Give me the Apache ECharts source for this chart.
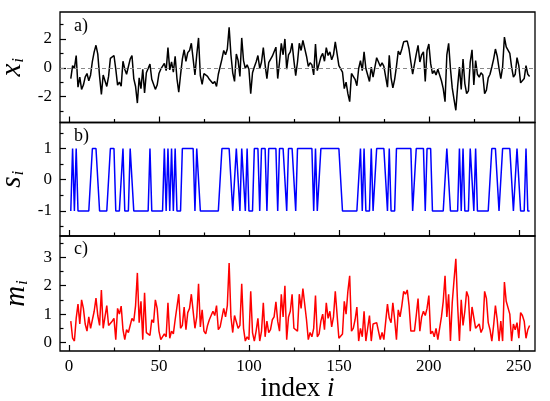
<!DOCTYPE html>
<html>
<head>
<meta charset="utf-8">
<script src="https://cdn.jsdelivr.net/npm/echarts@6/dist/echarts.min.js"></script>
<style>
html, body { margin: 0; padding: 0; background: #fff; }
#chart { width: 550px; height: 401px; }
</style>
</head>
<body>
<div id="chart"></div>
<script>
// panel a) raw values x_i, i = 1..256 (read off the picture)
const xValues = [
  -0.75, 0.15, -0.05, 0.85, -1.35, -0.65, -1.5, -1.2, -0.65, -0.4, -0.9, -0.5, 0.45, 1.1, 1.56, 0.95,
  -0.6, -1.85, -0.5, -0.9, -1.3, -0.6, 0.65, 0.75, 0.85, -0.1, -1.2, -1.0, -1.28, 0.45, -0.1, -0.45,
  -0.35, 0.6, 0.85, -0.75, -1.3, -2.45, -0.7, -1.45, -0.1, -1.75, -0.35, -0.3, 0.25, -0.8, -0.7, -1.5,
  -1.2, -0.4, -0.1, -0.05, 0.3, -0.2, 1.4, -0.15, 0.4, -0.3, 0.8, -0.75, -1.7, -0.5, 0.6, 1.25,
  0.45, 1.05, 1.2, 1.7, 1.75, -0.5, 0.9, 2.07, -0.55, -1.15, -0.4, -0.3, -0.6, -0.8, -0.85, -1.1,
  -0.95, -1.3, -0.45, -0.55, 0.6, 1.2, 0.9, 1.3, 2.8, 0.9, -0.35, -0.95, 0.95, 0.5, -0.6, 2.07,
  0.5, -0.05, 0.2, -0.1, -1.8, -0.35, 0.05, 0.4, 0.85, -0.05, 0.4, 1.4, 0.2, -0.75, 0.35, 0.45,
  0.8, 0.9, 1.43, -0.75, 0.4, 1.7, 0.9, 2.0, -0.1, 0.9, 1.1, 1.7, 0.5, -0.55, 0.4, 1.7,
  1.2, 1.9, 1.85, 0.8, 0.1, 0.35, 0.2, -0.5, 1.65, -0.2, -0.3, 0.75, 1.0, 0.45, 1.4, 0.85,
  1.1, 0.55, 0.9, 1.8, 1.75, 0.15, 0.2, -0.3, -1.45, -1.0, -1.8, -2.35, -0.4, -0.5, -0.8, -1.25,
  -0.05, 0.5, -0.2, 1.1, -0.05, -0.1, -0.95, 0.05, -0.65, -0.65, 0.7, 0.7, 0.1, 0.35, 0.1, 0.1,
  -1.35, 0.86, -0.7, -1.4, -0.8, 0.1, 1.15, 0.9, 1.3, 1.8, 1.7, 1.85, 1.3, 0.4, -0.45, -0.4,
  0.95, 1.55, 0.4, 0.9, 1.1, -0.95, 1.2, 1.65, 0.3, -0.4, -0.2, -0.5, -0.1, -0.05, -0.9, -1.45,
  -2.35, 0.9, 1.7, -0.05, -1.4, -2.2, -2.95, -1.3, 0.05, -1.5, 0.6, -1.1, -1.8, -1.6, 0.4, 1.25,
  -1.2, 0.5, -0.45, -0.65, -0.35, -0.5, -1.8, -1.55, -0.7, -0.45, 0.05, 0.6, 1.3, 0.8, -0.05, -0.75,
  0.05, 2.13, 1.45, 1.4, 1.0, 0.05, -0.65, -0.45, 0.7, 0.15, -1.05, -0.95, -0.75, 0.15, -0.45, -0.6
];

// panel b) signs s_i
const sValues = [
  -1, 1, -1, 1, -1, -1, -1, -1, -1, -1, -1, -1, 1, 1, 1, 1,
  -1, -1, -1, -1, -1, -1, 1, 1, 1, -1, -1, -1, -1, 1, -1, -1,
  -1, 1, 1, -1, -1, -1, -1, -1, -1, -1, -1, -1, 1, -1, -1, -1,
  -1, -1, -1, -1, 1, -1, 1, -1, 1, -1, 1, -1, -1, -1, 1, 1,
  1, 1, 1, 1, 1, -1, 1, 1, -1, -1, -1, -1, -1, -1, -1, -1,
  -1, -1, -1, -1, 1, 1, 1, 1, 1, 1, -1, -1, 1, 1, -1, 1,
  1, -1, 1, -1, -1, -1, 1, 1, 1, -1, 1, 1, 1, -1, 1, 1,
  1, 1, 1, -1, 1, 1, 1, 1, -1, 1, 1, 1, 1, -1, 1, 1,
  1, 1, 1, 1, 1, 1, 1, -1, 1, -1, -1, 1, 1, 1, 1, 1,
  1, 1, 1, 1, 1, 1, 1, -1, -1, -1, -1, -1, -1, -1, -1, -1,
  -1, 1, -1, 1, -1, -1, -1, 1, -1, -1, 1, 1, 1, 1, 1, 1,
  -1, 1, -1, -1, -1, 1, 1, 1, 1, 1, 1, 1, 1, 1, -1, -1,
  1, 1, 1, 1, 1, -1, 1, 1, 1, -1, -1, -1, -1, -1, -1, -1,
  -1, 1, 1, -1, -1, -1, -1, -1, 1, -1, 1, -1, -1, -1, 1, 1,
  -1, 1, -1, -1, -1, -1, -1, -1, -1, -1, 1, 1, 1, 1, -1, -1,
  1, 1, 1, 1, 1, 1, -1, -1, 1, 1, -1, -1, -1, 1, -1, -1
];

// panel c) magnitudes m_i
const mValues = [
  0.75, 0.15, 0.05, 0.85, 1.35, 0.65, 1.5, 1.2, 0.65, 0.4, 0.9, 0.5, 0.45, 1.1, 1.56, 0.95,
  0.6, 1.85, 0.5, 0.9, 1.3, 0.6, 0.65, 0.75, 0.85, 0.1, 1.2, 1.0, 1.28, 0.45, 0.1, 0.45,
  0.35, 0.6, 0.85, 0.75, 1.3, 2.45, 0.7, 1.45, 0.1, 1.75, 0.35, 0.3, 0.25, 0.8, 0.7, 1.5,
  1.2, 0.4, 0.1, 0.05, 0.3, 0.2, 1.4, 0.15, 0.4, 0.3, 0.8, 0.75, 1.7, 0.5, 0.6, 1.25,
  0.45, 1.05, 1.2, 1.7, 1.75, 0.5, 0.9, 2.07, 0.55, 1.15, 0.4, 0.3, 0.6, 0.8, 0.85, 1.1,
  0.95, 1.3, 0.45, 0.55, 0.6, 1.2, 0.9, 1.3, 2.8, 0.9, 0.35, 0.95, 0.95, 0.5, 0.6, 2.07,
  0.5, 0.05, 0.2, 0.1, 1.8, 0.35, 0.05, 0.4, 0.85, 0.05, 0.4, 1.4, 0.2, 0.75, 0.35, 0.45,
  0.8, 0.9, 1.43, 0.75, 0.4, 1.7, 0.9, 2.0, 0.1, 0.9, 1.1, 1.7, 0.5, 0.55, 0.4, 1.7,
  1.2, 1.9, 1.85, 0.8, 0.1, 0.35, 0.2, 0.5, 1.65, 0.2, 0.3, 0.75, 1.0, 0.45, 1.4, 0.85,
  1.1, 0.55, 0.9, 1.8, 1.75, 0.15, 0.2, 0.3, 1.45, 1.0, 1.8, 2.35, 0.4, 0.5, 0.8, 1.25,
  0.05, 0.5, 0.2, 1.1, 0.05, 0.1, 0.95, 0.05, 0.65, 0.65, 0.7, 0.7, 0.1, 0.35, 0.1, 0.1,
  1.35, 0.86, 0.7, 1.4, 0.8, 0.1, 1.15, 0.9, 1.3, 1.8, 1.7, 1.85, 1.3, 0.4, 0.45, 0.4,
  0.95, 1.55, 0.4, 0.9, 1.1, 0.95, 1.2, 1.65, 0.3, 0.4, 0.2, 0.5, 0.1, 0.05, 0.9, 1.45,
  2.35, 0.9, 1.7, 0.05, 1.4, 2.2, 2.95, 1.3, 0.05, 1.5, 0.6, 1.1, 1.8, 1.6, 0.4, 1.25,
  1.2, 0.5, 0.45, 0.65, 0.35, 0.5, 1.8, 1.55, 0.7, 0.45, 0.05, 0.6, 1.3, 0.8, 0.05, 0.75,
  0.05, 2.13, 1.45, 1.4, 1.0, 0.05, 0.65, 0.45, 0.7, 0.15, 1.05, 0.95, 0.75, 0.15, 0.45, 0.6
];

// index i runs 1..256
const indexValues = xValues.map((v, k) => k + 1);

// tick positions
const xMajorTicks = [0, 50, 100, 150, 200, 250];
const xMinorTicks = [25, 75, 125, 175, 225];
const aMajorTicks = [-2, 0, 2];
const aMinorTicks = [-3, -1, 1, 3];
const bMajorTicks = [-1, 0, 1];
const bMinorTicks = [-1.5, -0.5, 0.5, 1.5];
const cMajorTicks = [0, 1, 2, 3];
const cMinorTicks = [0.5, 1.5, 2.5, 3.5];

const panelLabels = ['a)', 'b)', 'c)'];
const serifFont = '"Liberation Serif", "DejaVu Serif", serif';

function pairs(vals) {
  return vals.map((v, k) => [indexValues[k], v]);
}

var chartDom = document.getElementById('chart');
var myChart = echarts.init(chartDom);

// three stacked panels
var grids = [
  { left: 60, right: 15, top: 12, height: 110.5 },
  { left: 60, right: 15, top: 122.5, height: 113.5 },
  { left: 60, right: 15, top: 236, height: 115 }
];
grids.forEach(g => {
  g.show = true;
  g.borderColor = '#000';
  g.borderWidth = 1.3;
  g.backgroundColor = 'transparent';
  g.outerBoundsMode = 'none';
  g.containLabel = false;
});

var xAxes = [];
var yAxes = [];
var xRange = [-5, 259];
var yRanges = [[-3.8, 3.87], [-1.8, 1.83], [-0.3, 3.75]];
var yMajor = [aMajorTicks, bMajorTicks, cMajorTicks];
var yMinor = [aMinorTicks, bMinorTicks, cMinorTicks];
var yNames = ['{v|x}{s|i}', '{v|s}{s|i}', '{v|m}{s|i}'];
var tickStyle = { color: '#000', width: 1.2 };

for (let k = 0; k < 3; k++) {
  // major x ticks
  xAxes.push({
    type: 'value', gridIndex: k, min: xRange[0], max: xRange[1], position: 'bottom',
    axisLine: { show: false, onZero: false },
    splitLine: { show: false },
    axisTick: { inside: true, length: 6, customValues: xMajorTicks, lineStyle: tickStyle },
    axisLabel: {
      show: k === 2, customValues: xMajorTicks, margin: 7,
      fontFamily: serifFont, fontSize: 17, color: '#000'
    },
    name: k === 2 ? '{t|index }{i|i}' : '',
    nameLocation: 'middle', nameGap: 23,
    nameTextStyle: {
      rich: {
        t: { fontFamily: serifFont, fontSize: 27, color: '#000' },
        i: { fontFamily: serifFont, fontSize: 27, fontStyle: 'italic', color: '#000' }
      }
    }
  });
  // minor x ticks
  xAxes.push({
    type: 'value', gridIndex: k, min: xRange[0], max: xRange[1], position: 'bottom',
    axisLine: { show: false, onZero: false },
    splitLine: { show: false },
    axisTick: { inside: true, length: 3.5, customValues: xMinorTicks, lineStyle: tickStyle },
    axisLabel: { show: false }
  });
  // major y ticks
  yAxes.push({
    type: 'value', gridIndex: k, min: yRanges[k][0], max: yRanges[k][1], position: 'left',
    axisLine: { show: false, onZero: false },
    splitLine: { show: false },
    axisTick: { inside: true, length: 6, customValues: yMajor[k], lineStyle: tickStyle },
    axisLabel: {
      customValues: yMajor[k], margin: 8,
      fontFamily: serifFont, fontSize: 17, color: '#000'
    },
    name: yNames[k],
    nameLocation: 'middle', nameGap: 29, nameRotate: 90,
    nameTextStyle: {
      rich: {
        v: { fontFamily: serifFont, fontSize: 29, fontStyle: 'italic', color: '#000' },
        s: { fontFamily: serifFont, fontSize: 17, fontStyle: 'italic', color: '#000', padding: [12, 0, 0, 1] }
      }
    }
  });
  // minor y ticks
  yAxes.push({
    type: 'value', gridIndex: k, min: yRanges[k][0], max: yRanges[k][1], position: 'left',
    axisLine: { show: false, onZero: false },
    splitLine: { show: false },
    axisTick: { inside: true, length: 3.5, customValues: yMinor[k], lineStyle: tickStyle },
    axisLabel: { show: false }
  });
}

var option = {
  animation: false,
  backgroundColor: '#fff',
  grid: grids,
  xAxis: xAxes,
  yAxis: yAxes,
  graphic: [
    { type: 'text', left: 74, top: 17, style: { text: panelLabels[0], fontFamily: serifFont, fontSize: 18, fill: '#000' } },
    { type: 'text', left: 74, top: 127, style: { text: panelLabels[1], fontFamily: serifFont, fontSize: 18, fill: '#000' } },
    { type: 'text', left: 74, top: 240, style: { text: panelLabels[2], fontFamily: serifFont, fontSize: 18, fill: '#000' } }
  ],
  series: [
    {
      type: 'line', xAxisIndex: 0, yAxisIndex: 0, data: pairs(xValues),
      showSymbol: false, lineStyle: { color: '#000', width: 1.5 },
      markLine: {
        silent: true, symbol: 'none', label: { show: false },
        lineStyle: { color: '#888', type: [4, 3], width: 1 },
        data: [{ yAxis: 0 }]
      }
    },
    {
      type: 'line', xAxisIndex: 2, yAxisIndex: 2, data: pairs(sValues),
      showSymbol: false, lineStyle: { color: '#0000ff', width: 1.5 }
    },
    {
      type: 'line', xAxisIndex: 4, yAxisIndex: 4, data: pairs(mValues),
      showSymbol: false, lineStyle: { color: '#ff0000', width: 1.5 }
    }
  ]
};

option && myChart.setOption(option);
</script>
</body>
</html>
